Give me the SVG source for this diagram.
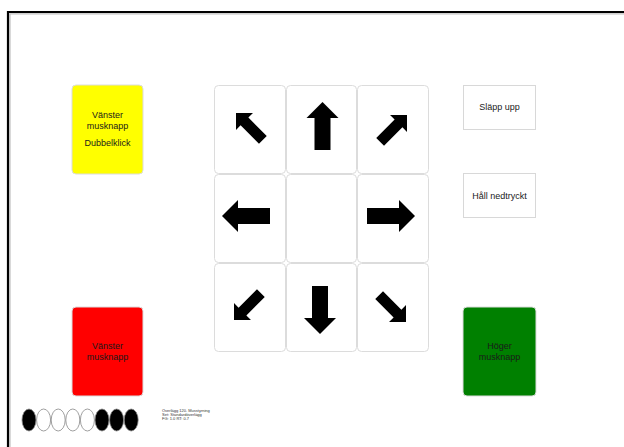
<svg xmlns="http://www.w3.org/2000/svg" width="624" height="447" viewBox="0 0 624 447">
<style>
.cell{fill:#fff;stroke:#dcdcdc;stroke-width:1}
.key{stroke:#dcdcdc;stroke-width:1}
.lbl{font-family:"Liberation Sans",Arial,sans-serif;font-size:9px;text-anchor:middle;fill:#1a1a1a}
.arr{fill:#000}
.tiny{font-family:"Liberation Sans",Arial,sans-serif;font-size:4px;fill:#333}
</style>
<defs>
<path id="big" d="M0 0 L-16 -16 L-16 -8 L-48 -8 L-48 8 L-16 8 L-16 16 Z"/>
<path id="diag" d="M0 0 L-12 -12 L-12 -5.5 L-38 -5.5 L-38 5.5 L-12 5.5 L-12 12 Z"/>
</defs>
<rect width="624" height="447" fill="#fff"/>
<g id="frame">
<path d="M10 447 V13.8 H624" fill="none" stroke="#c0c0c0" stroke-width="1.2"/>
<path d="M8 447 V12 H624" fill="none" stroke="#000" stroke-width="2.2"/>
</g>
<g id="grid">
<g id="cell-ul"><rect class="cell" x="214.5" y="85.5" width="71" height="88" rx="4"/><use href="#diag" class="arr" transform="translate(236,113) rotate(225)"/></g>
<g id="cell-u"><rect class="cell" x="286.5" y="85.5" width="70" height="88" rx="4"/><use href="#big" class="arr" transform="translate(322.5,102) rotate(-90)"/></g>
<g id="cell-ur"><rect class="cell" x="357.5" y="85.5" width="71" height="88" rx="4"/><use href="#diag" class="arr" transform="translate(407,115) rotate(-45)"/></g>
<g id="cell-l"><rect class="cell" x="214.5" y="174.5" width="71" height="88" rx="4"/><use href="#big" class="arr" transform="translate(222,216) rotate(180)"/></g>
<g id="cell-c"><rect class="cell" x="286.5" y="174.5" width="70" height="88" rx="4"/></g>
<g id="cell-r"><rect class="cell" x="357.5" y="174.5" width="71" height="88" rx="4"/><use href="#big" class="arr" transform="translate(415,216)"/></g>
<g id="cell-dl"><rect class="cell" x="214.5" y="263.5" width="71" height="88" rx="4"/><use href="#diag" class="arr" transform="translate(234,320) rotate(135)"/></g>
<g id="cell-d"><rect class="cell" x="286.5" y="263.5" width="70" height="88" rx="4"/><use href="#big" class="arr" transform="translate(320,334) rotate(90)"/></g>
<g id="cell-dr"><rect class="cell" x="357.5" y="263.5" width="71" height="88" rx="4"/><use href="#diag" class="arr" transform="translate(406,322) rotate(45)"/></g>
</g>
<g id="left-double">
<rect class="key" x="72" y="85" width="71" height="89" rx="4" fill="#ffff00"/>
<text class="lbl" x="107.5" y="118">Vänster</text>
<text class="lbl" x="107.5" y="128.5">musknapp</text>
<text class="lbl" x="107.5" y="146">Dubbelklick</text>
</g>
<g id="left-click">
<rect class="key" x="72" y="307" width="71" height="89" rx="4" fill="#ff0000"/>
<text class="lbl" x="107.5" y="349">Vänster</text>
<text class="lbl" x="107.5" y="360">musknapp</text>
</g>
<g id="right-click">
<rect class="key" x="463" y="307" width="73" height="89" rx="4" fill="#008000"/>
<text class="lbl" x="499.5" y="348.5">Höger</text>
<text class="lbl" x="499.5" y="359.5">musknapp</text>
</g>
<g id="release">
<rect x="463.5" y="85.5" width="72" height="44" fill="#fff" stroke="#d8d8d8"/>
<text class="lbl" x="499.5" y="110">Släpp upp</text>
</g>
<g id="hold">
<rect x="463.5" y="173.5" width="72" height="44" fill="#fff" stroke="#d8d8d8"/>
<text class="lbl" x="499.5" y="199">Håll nedtryckt</text>
</g>
<g id="code" stroke="#888" stroke-width="0.8">
<ellipse cx="29" cy="420" rx="7" ry="11" fill="#000"/>
<ellipse cx="43.6" cy="420" rx="7" ry="11" fill="#fff"/>
<ellipse cx="58.2" cy="420" rx="7" ry="11" fill="#fff"/>
<ellipse cx="72.8" cy="420" rx="7" ry="11" fill="#fff"/>
<ellipse cx="87.4" cy="420" rx="7" ry="11" fill="#fff"/>
<ellipse cx="102" cy="420" rx="7" ry="11" fill="#000"/>
<ellipse cx="116.6" cy="420" rx="7" ry="11" fill="#000"/>
<ellipse cx="131.2" cy="420" rx="7" ry="11" fill="#000"/>
</g>
<g id="info">
<text class="tiny" x="162" y="412">Överlägg 120. Musstyrning</text>
<text class="tiny" x="162" y="416">Set: Standardöverlägg</text>
<text class="tiny" x="162" y="420">FG: 1.0 RT: 0.7</text>
</g>
</svg>
